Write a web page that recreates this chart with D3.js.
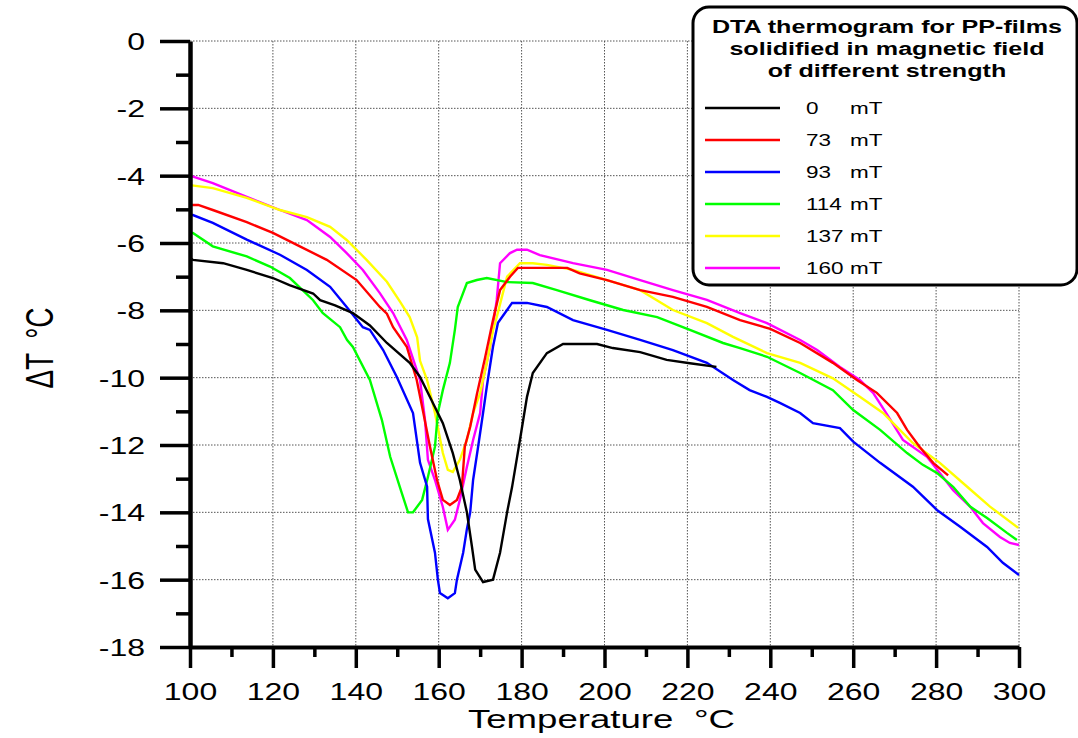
<!DOCTYPE html>
<html><head><meta charset="utf-8">
<script src="https://cdn.jsdelivr.net/npm/d3@7/dist/d3.min.js"></script>
<style>
body{margin:0;background:#fff}
svg{display:block}
text{font-family:"Liberation Sans",Arial,Helvetica,sans-serif;fill:#000}
</style>
</head><body>
<svg id="c" width="1078" height="738"></svg>
<script>
// ---------- data ----------
const xTicks = [100,120,140,160,180,200,220,240,260,280,300];
const xMinor = [110,130,150,170,190,210,230,250,270,290];
const yTicks = [0,-2,-4,-6,-8,-10,-12,-14,-16,-18];
const yMinor = [-1,-3,-5,-7,-9,-11,-13,-15,-17];

const legendTitle = ["DTA thermogram for PP-films","solidified in magnetic field","of different strength"];
const fieldLabels = ["0","73","93","114","137","160"];
const unitLabel = "mT";
const colors = ["#000000","#ff0000","#0000ff","#00ff00","#ffff00","#ff00ff"];

const t0 = [100,100.7,108,113.7,120,124,129.7,131.4,135,139.3,143.4,147.5,153,155.5,158.6,161,163.4,165.1,166.8,168,168.8,170.7,173.1,174.8,176.5,177.7,179.6,181.3,182.7,186.1,190,198.2,202,208.6,215,220.6,227];
const v0 = [-6.45,-6.5,-6.6,-6.8,-7.04,-7.25,-7.5,-7.7,-7.85,-8.08,-8.45,-8.97,-9.56,-9.98,-10.75,-11.35,-12.24,-13.04,-14.0,-15.0,-15.7,-16.07,-16.0,-15.2,-14.0,-13.25,-11.85,-10.57,-9.86,-9.27,-9.0,-9.0,-9.12,-9.24,-9.47,-9.57,-9.68];

const t73 = [100,102,105.5,113.7,120,126.5,133,140.2,145.8,147.5,149,152.3,154.7,156.3,157.9,159.6,161,162.7,164.4,165.6,166.3,167.6,169.2,171.2,173.1,174.8,177.2,179.1,191,194,200.6,208.6,216.5,224.7,232.7,240,247.2,255.1,260.9,265.7,270.6,273,276,279.3,282.9];
const v73 = [-4.87,-4.87,-5.02,-5.38,-5.7,-6.1,-6.5,-7.1,-7.9,-8.1,-8.5,-9.08,-10.07,-11.05,-12.05,-13.04,-13.63,-13.78,-13.63,-13.24,-12.05,-11.46,-10.5,-9.4,-8.29,-7.4,-7.0,-6.74,-6.74,-6.9,-7.1,-7.4,-7.6,-7.9,-8.29,-8.55,-8.97,-9.56,-10.07,-10.45,-11.05,-11.55,-12.05,-12.53,-12.9];

const t93 = [100,100.7,105.5,113.7,121.7,128.2,133.8,137.8,141.7,143.4,146.6,149.9,153.8,155.5,157.2,157.4,159.1,159.8,160.3,162.2,163.9,164.4,165.9,166.8,167.6,168.3,169.5,170.7,171.6,173.1,174.3,177.7,181.3,186.1,192.4,200.6,208.6,216.5,224.7,231,235,239.2,242.3,247.2,250.3,256.8,260,266.5,274.4,280.2,285.8,292.3,296.1,300];
const v93 = [-5.17,-5.17,-5.4,-5.9,-6.35,-6.8,-7.3,-7.9,-8.5,-8.58,-9.18,-9.98,-11.05,-12.53,-13.24,-14.2,-15.2,-16.0,-16.4,-16.55,-16.4,-16.0,-15.2,-14.5,-14.0,-13.04,-12.06,-11.05,-10.27,-9.08,-8.37,-7.78,-7.78,-7.9,-8.29,-8.58,-8.88,-9.18,-9.56,-10.07,-10.37,-10.57,-10.75,-11.05,-11.35,-11.5,-11.9,-12.53,-13.24,-13.93,-14.43,-15.03,-15.5,-15.86];

const t114 = [100,100.7,105.5,113.7,119.3,124.1,129.7,132,136.2,137.9,139.3,143.4,146.3,148.3,151.1,152.6,153.8,156,157.4,159.1,159.8,161,162.7,163.9,164.6,166.8,169.2,171.6,176.5,182.7,188.5,196.5,204.5,212.7,220.6,228.6,232.7,239.2,247.2,255.1,260,266.5,273,276.8,280.2,284.1,288.2,292.3,297.1,299.5];
const v114 = [-5.7,-5.7,-6.1,-6.4,-6.7,-7.04,-7.7,-8.08,-8.5,-8.88,-9.09,-10.07,-11.26,-12.35,-13.43,-14.0,-14.0,-13.63,-12.95,-12.05,-11.05,-10.37,-9.56,-8.58,-7.9,-7.19,-7.1,-7.04,-7.16,-7.19,-7.4,-7.7,-7.99,-8.2,-8.58,-8.97,-9.12,-9.38,-9.86,-10.37,-10.96,-11.55,-12.24,-12.59,-12.83,-13.24,-13.83,-14.17,-14.61,-14.82];

const t137 = [100,105.5,113.7,121.7,128.2,133.8,137.8,142.6,147.5,150.7,153,154.8,155.5,157.2,159.1,161,162.2,163.4,165.1,166.8,168.3,170,171.6,173.1,174,176.5,179.6,182.7,186.1,192.4,200.6,208.6,216.5,224.7,231,239.2,247.2,255.1,261.6,267.2,274.4,280.9,287.5,293,299.8];
const v137 = [-4.28,-4.37,-4.66,-5.02,-5.23,-5.52,-5.91,-6.5,-7.15,-7.75,-8.2,-8.8,-9.5,-10.07,-11.05,-12.24,-12.74,-12.8,-12.44,-11.85,-11.05,-10.45,-9.56,-8.6,-8.2,-7.0,-6.6,-6.6,-6.65,-6.8,-7.1,-7.4,-7.99,-8.38,-8.79,-9.27,-9.56,-10.02,-10.57,-11.05,-11.94,-12.53,-13.24,-13.83,-14.46];

const t160 = [100,105.5,113.7,121.7,128.2,133.8,137.8,141.7,145.8,149,152.3,155.5,156.7,157.4,159.1,161,162.2,163.9,165.1,166.8,168.3,170,170.7,172.4,174,174.8,177.2,178.9,181.3,184.4,192.4,200.6,208.6,216.5,224.7,232.7,239.2,247.2,251.3,256.8,261.6,264.8,268.2,272,277.8,280.9,284.1,288.2,291.3,295.4,297.8,300];
const v160 = [-4.0,-4.22,-4.63,-5.02,-5.32,-5.82,-6.3,-6.8,-7.49,-8.08,-8.88,-10.07,-11.26,-12.44,-13.04,-13.84,-14.52,-14.22,-13.63,-12.65,-11.85,-11.05,-10.07,-9.08,-7.69,-6.6,-6.3,-6.2,-6.2,-6.36,-6.6,-6.8,-7.1,-7.4,-7.69,-8.08,-8.38,-8.88,-9.18,-9.68,-10.07,-10.45,-11.1,-11.85,-12.35,-12.83,-13.34,-13.83,-14.32,-14.73,-14.91,-14.97];

// ---------- build ----------
const temps = [t0,t73,t93,t114,t137,t160];
const values = [v0,v73,v93,v114,v137,v160];
const series = fieldLabels.map((f,i)=>({label:f,color:colors[i],pts:temps[i].map((t,j)=>[t,values[i][j]])}));
const drawOrder = [5,4,3,2,1,0];

const SX = 1.38; // horizontal text stretch of the reference
const svg = d3.select('#c');
const x = d3.scaleLinear().domain([100,300]).range([190,1019]);
const y = d3.scaleLinear().domain([0,-18]).range([41,647]);

// grid
const grid = svg.append('g').attr('stroke','#555').attr('stroke-width',1).attr('stroke-dasharray','1.5,1.5').attr('fill','none');
grid.selectAll('.gx').data(xTicks.slice(1)).join('line')
  .attr('x1',d=>x(d)).attr('x2',d=>x(d)).attr('y1',y(0)).attr('y2',y(-18));
grid.selectAll('.gy').data(yTicks.slice(0,-1)).join('line')
  .attr('y1',d=>y(d)).attr('y2',d=>y(d)).attr('x1',x(100)).attr('x2',x(300));

// data lines
const line = d3.line().x(d=>x(d[0])).y(d=>y(d[1]));
svg.append('g').selectAll('path').data(drawOrder.map(i=>series[i])).join('path')
  .attr('d',d=>line(d.pts)).attr('fill','none').attr('stroke',d=>d.color)
  .attr('stroke-width',2.4).attr('stroke-linejoin','miter');

// axes
const gyMinor = svg.append('g').attr('transform',`translate(${x(100)},0)`)
  .call(d3.axisLeft(y).tickValues(yMinor).tickSize(14).tickSizeOuter(0).tickFormat(''));
gyMinor.select('.domain').remove();
gyMinor.selectAll('.tick line').attr('stroke-width',3.5);

const gy = svg.append('g').attr('transform',`translate(${x(100)},0)`)
  .call(d3.axisLeft(y).tickValues(yTicks).tickSize(30).tickSizeOuter(0).tickFormat(d3.format('d')));
gy.select('.domain').attr('stroke-width',4.5);
gy.selectAll('.tick line').attr('stroke-width',3.5);
gy.selectAll('.tick text').attr('x',0).attr('dy','0.36em').attr('font-size',23.2)
  .attr('text-anchor','end').attr('transform',`translate(-45,0) scale(${SX},1)`)
  .text(d=>d===0?'0':String(d).replace('\u2212','-'));

const gxMinor = svg.append('g').attr('transform',`translate(0,${y(-18)})`)
  .call(d3.axisBottom(x).tickValues(xMinor).tickSize(10).tickSizeOuter(0).tickFormat(''));
gxMinor.select('.domain').remove();
gxMinor.selectAll('.tick line').attr('stroke-width',3.5);

const gx = svg.append('g').attr('transform',`translate(0,${y(-18)})`)
  .call(d3.axisBottom(x).tickValues(xTicks).tickSize(21).tickSizeOuter(0).tickFormat(d3.format('d')));
gx.select('.domain').attr('stroke-width',4);
gx.selectAll('.tick line').attr('stroke-width',3.5);
gx.selectAll('.tick text').attr('y',0).attr('dy',0).attr('font-size',23.2)
  .attr('text-anchor','middle').attr('transform',`translate(0,53) scale(${SX},1)`);

svg.selectAll('.tick text').attr('fill','#000').style('font-family','"Liberation Sans",Arial,sans-serif');

// axis titles
const xt = svg.append('text').attr('font-size',26.5).attr('transform',`translate(468,728) scale(${SX},1)`);
xt.append('tspan').text('Temperature');
xt.append('tspan').attr('dx',15).text('\u00B0C');

const yt = svg.append('text').attr('font-size',28).attr('text-anchor','middle')
  .attr('transform',`translate(53,348) scale(${SX},1) rotate(-90)`);
yt.append('tspan').text('\u0394T');
yt.append('tspan').attr('dx',14).text('\u00B0C');

// legend
const lg = svg.append('g');
lg.append('rect').attr('x',693).attr('y',7).attr('width',384).attr('height',278).attr('rx',16)
  .attr('fill','#fff').attr('stroke','#000').attr('stroke-width',3);
lg.selectAll('.lt').data(legendTitle).join('text')
  .attr('font-size',18.2).attr('font-weight','bold').attr('text-anchor','middle')
  .attr('transform',(d,i)=>`translate(887,${33+i*22}) scale(${SX},1)`).text(d=>d);
const items = lg.selectAll('.li').data(series).join('g')
  .attr('transform',(d,i)=>`translate(0,${108+i*32})`);
items.append('line').attr('x1',705).attr('x2',780).attr('y1',0).attr('y2',0)
  .attr('stroke',d=>d.color).attr('stroke-width',2.6);
items.append('text').attr('font-size',16.3).attr('transform',`translate(806,6) scale(${SX},1)`).text(d=>d.label);
items.append('text').attr('font-size',16.3).attr('transform',`translate(850,6) scale(${SX},1)`).text(unitLabel);
</script>
</body></html>
